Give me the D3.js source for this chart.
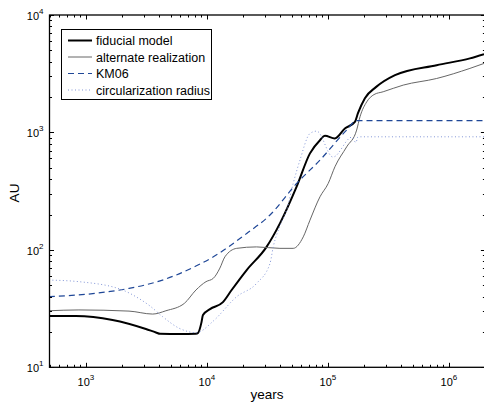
<!DOCTYPE html>
<html>
<head>
<meta charset="utf-8">
<script src="https://cdn.jsdelivr.net/npm/d3@7"></script>
<style>
  body { margin: 0; background: #fff; }
  text { font-family: "Liberation Sans", Arial, sans-serif; fill: #000; }
</style>
</head>
<body>
<svg width="484" height="402"></svg>
<script>
// Radius vs. time, log-log

// [years, AU]
var fiducial = [[494,27.3],[826,27.3],[1660,25.3],[3130,21.2],[3790,19.8],[4100,19.3],[6000,19.2],[8100,19.3],
  [8470,19.7],[9000,24],[9270,27.9],[10600,31.3],[13560,35.9],[16000,45.5],[21300,67.3],[31100,106],[40100,168],
  [55100,345],[71000,663],[85900,859],[94400,935],[114000,889],[138000,1081],[167000,1231],[177000,1459],
  [202000,1959],[249000,2431],[358000,3077],[791000,3740],[1490000,4270],[1950000,4640]];

var alternate = [[494,30.3],[875,30.8],[2270,30.1],[3560,28.4],[4580,30.3],[6500,35],[8110,45.5],[9820,53.6],
  [11280,57.2],[12800,70],[14080,87.3],[17600,103],[25700,106],[40100,103],[51600,103],[62500,129],[71000,179],
  [85900,283],[100500,368],[114200,510],[142800,754],[172600,1047],[184000,1359],[209000,1820],[240000,2100],
  [286000,2220],[419000,2530],[791000,2880],[1490000,3510],[1950000,3870]];

var km06 = [[494,39.9],[1210,42.7],[2270,47],[4300,55.3],[8110,72.8],[11300,87.3],[21300,138],[33200,198],
  [55100,368],[85900,581],[142800,1047],[172000,1260],[1950000,1260]];

var circ = [[494,55.3],[875,53.6],[2010,45.5],[2590,39.9],[3380,33.3],[4300,27],[5900,21.5],[8220,19.7],
  [8750,20.1],[11300,24.8],[17600,39.9],[25700,51.8],[33200,76.7],[35300,106],[40100,160],[45600,219],
  [51600,368],[58700,581],[71000,979],[80700,1026],[110000,617],[158000,912],[170000,820],[177000,918],
  [1950000,918]];

var seriesNames = ["fiducial model", "alternate realization", "KM06", "circularization radius"];
var xTickExps = [3, 4, 5, 6];
var yTickExps = [1, 2, 3, 4];

var svg = d3.select("svg"),
    pLeft = 49.5, pRight = 485.4, pTop = 15, pBottom = 367.3;

var x = d3.scaleLog().domain([500, 2e6]).range([pLeft, pRight]);
var y = d3.scaleLog().domain([10, 1e4]).range([pBottom, pTop]);

var styles = [
  {color: "#000", width: 2, dash: null},
  {color: "#666", width: 1, dash: null},
  {color: "#1f4797", width: 1.2, dash: "6,4"},
  {color: "#8295d6", width: 1, dash: "1,2.5"}
];

svg.append("clipPath").attr("id", "clip")
  .append("rect").attr("x", pLeft).attr("y", pTop).attr("width", pRight - pLeft).attr("height", pBottom - pTop);

var line = d3.line()
    .x(function(d) { return x(d[0]); })
    .y(function(d) { return y(d[1]); })
    .curve(d3.curveMonotoneX);

var plot = svg.append("g").attr("clip-path", "url(#clip)");
[fiducial, alternate, km06, circ].forEach(function(data, i) {
  plot.append("path")
      .attr("d", line(data))
      .attr("fill", "none")
      .attr("stroke", styles[i].color)
      .attr("stroke-width", styles[i].width)
      .attr("stroke-dasharray", styles[i].dash);
});

// ticks on all four sides, pointing in
var axes = svg.append("g").attr("stroke", "#000").attr("stroke-width", 1);

function isDecade(v) {
  var l = Math.log10(v);
  return Math.abs(l - Math.round(l)) < 1e-9;
}

x.ticks().forEach(function(v) {
  var len = isDecade(v) ? 4.5 : 2.5, px = Math.round(x(v)) + 0.5;
  axes.append("line").attr("x1", px).attr("x2", px).attr("y1", pBottom).attr("y2", pBottom - len);
  axes.append("line").attr("x1", px).attr("x2", px).attr("y1", pTop).attr("y2", pTop + len);
});

y.ticks().forEach(function(v) {
  var len = isDecade(v) ? 4.5 : 2.5, py = Math.round(y(v)) + 0.5;
  axes.append("line").attr("x1", pLeft).attr("x2", pLeft + len).attr("y1", py).attr("y2", py);
  axes.append("line").attr("x1", pRight).attr("x2", pRight - len).attr("y1", py).attr("y2", py);
});

axes.append("rect")
    .attr("x", pLeft).attr("y", pTop)
    .attr("width", pRight - pLeft).attr("height", pBottom - pTop)
    .attr("fill", "none").attr("stroke-width", 1.3);

// tick labels
xTickExps.forEach(function(e) {
  var t = svg.append("text")
      .attr("x", x(Math.pow(10, e)))
      .attr("y", 385.5)
      .attr("text-anchor", "middle")
      .attr("font-size", 11);
  t.append("tspan").text("10");
  t.append("tspan").attr("dy", -6).attr("font-size", 8).text(e);
});

yTickExps.forEach(function(e) {
  var t = svg.append("text")
      .attr("x", 43.5)
      .attr("y", y(Math.pow(10, e)) + 5)
      .attr("text-anchor", "end")
      .attr("font-size", 11);
  t.append("tspan").text("10");
  t.append("tspan").attr("dy", -6).attr("font-size", 8).text(e);
});

svg.append("text")
    .attr("x", 267)
    .attr("y", 399)
    .attr("text-anchor", "middle")
    .attr("font-size", 13.5)
    .text("years");

svg.append("text")
    .attr("transform", "translate(19,193) rotate(-90)")
    .attr("text-anchor", "middle")
    .attr("font-size", 13.5)
    .text("AU");

// legend
var legend = svg.append("g");
legend.append("rect")
    .attr("x", 61.5).attr("y", 29.5)
    .attr("width", 150).attr("height", 70)
    .attr("fill", "#fff").attr("stroke", "#000").attr("stroke-width", 1);

seriesNames.forEach(function(name, i) {
  var ly = 40.5 + i * 16.5;
  legend.append("line")
      .attr("x1", 68).attr("x2", 92)
      .attr("y1", ly).attr("y2", ly)
      .attr("stroke", styles[i].color)
      .attr("stroke-width", styles[i].width)
      .attr("stroke-dasharray", styles[i].dash);
  legend.append("text")
      .attr("x", 96)
      .attr("y", ly + 4.5)
      .attr("font-size", 12.5)
      .text(name);
});
</script>
</body>
</html>
